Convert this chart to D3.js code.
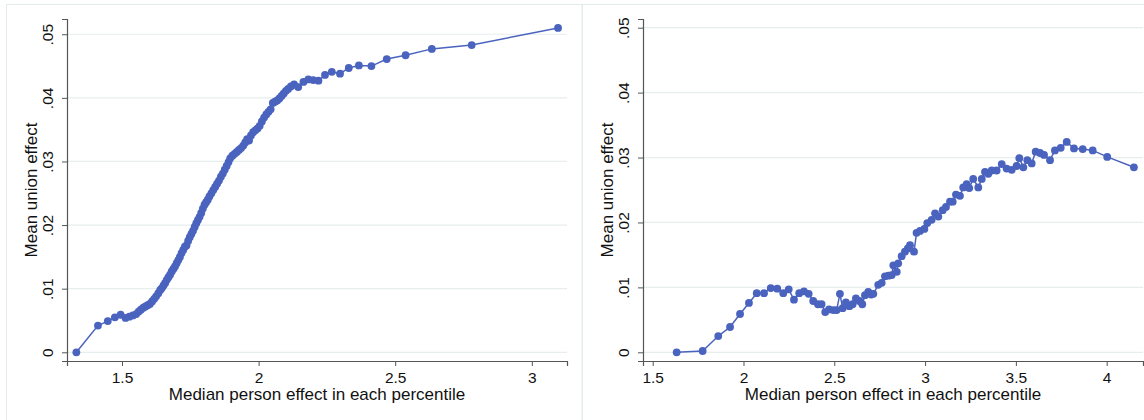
<!DOCTYPE html>
<html>
<head>
<meta charset="utf-8">
<script src="https://cdn.jsdelivr.net/npm/d3@7"></script>
<style>
html,body{margin:0;padding:0;background:#fff;}
svg{display:block;font-family:"Liberation Sans",Arial,sans-serif;}
</style>
</head>
<body>
<svg id="chart" width="1144" height="420"></svg>
<script>
// Left panel: median person effect (x) vs mean union effect (y)
const leftX = [1.333,1.412,1.448,1.474,1.495,1.513,1.527,1.540,1.552,1.561,1.569,1.578,1.586,1.594,1.602,1.610,1.618,1.625,1.633,1.640,1.646,1.652,1.658,1.664,1.670,1.676,1.682,1.688,1.694,1.700,1.706,1.712,1.718,1.724,1.730,1.736,1.742,1.748,1.754,1.760,1.766,1.772,1.778,1.784,1.790,1.796,1.802,1.808,1.814,1.820,1.827,1.834,1.841,1.848,1.855,1.862,1.869,1.876,1.883,1.890,1.896,1.904,1.912,1.920,1.928,1.936,1.944,1.951,1.958,1.965,1.972,1.980,1.988,1.996,2.004,2.012,2.020,2.028,2.036,2.044,2.052,2.060,2.068,2.076,2.084,2.092,2.100,2.108,2.118,2.130,2.145,2.164,2.182,2.200,2.219,2.243,2.268,2.298,2.330,2.367,2.413,2.469,2.538,2.634,2.780,3.096];
const leftY = [0.0000,0.0042,0.0049,0.0055,0.0059,0.0054,0.0056,0.0058,0.0060,0.0064,0.0067,0.0070,0.0072,0.0074,0.0076,0.0080,0.0084,0.0088,0.0093,0.0098,0.0101,0.0105,0.0109,0.0114,0.0118,0.0122,0.0127,0.0131,0.0135,0.0140,0.0145,0.0150,0.0156,0.0161,0.0166,0.0168,0.0175,0.0181,0.0186,0.0191,0.0197,0.0203,0.0208,0.0213,0.0219,0.0226,0.0232,0.0236,0.0240,0.0245,0.0250,0.0255,0.0260,0.0265,0.0270,0.0276,0.0281,0.0287,0.0293,0.0299,0.0305,0.0309,0.0312,0.0315,0.0318,0.0321,0.0325,0.0330,0.0335,0.0333,0.0341,0.0346,0.0349,0.0352,0.0356,0.0363,0.0369,0.0374,0.0378,0.0382,0.0392,0.0394,0.0396,0.0399,0.0403,0.0407,0.0411,0.0414,0.0418,0.0421,0.0417,0.0425,0.0429,0.0428,0.0427,0.0436,0.0441,0.0438,0.0447,0.0451,0.0450,0.0461,0.0467,0.0477,0.0483,0.0510];

// Right panel
const rightX = [1.632,1.775,1.861,1.926,1.981,2.030,2.073,2.113,2.150,2.186,2.219,2.249,2.278,2.307,2.333,2.359,2.384,2.410,2.430,2.450,2.471,2.495,2.513,2.531,2.546,2.564,2.583,2.601,2.619,2.638,2.654,2.669,2.687,2.703,2.715,2.742,2.761,2.779,2.798,2.816,2.825,2.844,2.852,2.871,2.889,2.905,2.917,2.939,2.953,2.972,2.996,3.012,3.036,3.055,3.073,3.097,3.115,3.137,3.152,3.170,3.192,3.210,3.229,3.243,3.265,3.293,3.312,3.330,3.348,3.367,3.394,3.422,3.449,3.477,3.504,3.519,3.541,3.563,3.587,3.609,3.633,3.655,3.688,3.715,3.747,3.780,3.820,3.868,3.923,4.003,4.150];
const rightY = [0.0000,0.0002,0.0025,0.0039,0.0059,0.0076,0.0091,0.0091,0.0099,0.0098,0.0091,0.0097,0.0081,0.0091,0.0094,0.0090,0.0079,0.0074,0.0074,0.0062,0.0066,0.0065,0.0065,0.0090,0.0068,0.0077,0.0071,0.0074,0.0083,0.0079,0.0074,0.0088,0.0093,0.0089,0.0090,0.0104,0.0107,0.0117,0.0118,0.0119,0.0134,0.0124,0.0137,0.0148,0.0155,0.0160,0.0165,0.0155,0.0184,0.0187,0.0190,0.0199,0.0204,0.0214,0.0209,0.0219,0.0224,0.0232,0.0232,0.0243,0.0241,0.0254,0.0259,0.0253,0.0267,0.0254,0.0267,0.0278,0.0275,0.0280,0.0280,0.0290,0.0283,0.0281,0.0287,0.0299,0.0285,0.0296,0.0291,0.0309,0.0307,0.0304,0.0296,0.0311,0.0315,0.0324,0.0314,0.0313,0.0311,0.0301,0.0285];

const yTicks = [0,0.01,0.02,0.03,0.04,0.05];
const yTickLabels = ["0",".01",".02",".03",".04",".05"];
const leftXTicks = [1.5,2,2.5,3];
const rightXTicks = [1.5,2,2.5,3,3.5,4];
const xTitle = "Median person effect in each percentile";
const yTitle = "Mean union effect";

const svg = d3.select("#chart");
const dotColor = "#4a63be";
const gridColor = "#e6eeee";
const frameColor = "#e3ecec";
const axisColor = "#555";

// outer frames
svg.append("rect").attr("x",6.5).attr("y",4.5).attr("width",575.5).attr("height",430)
  .attr("fill","none").attr("stroke",frameColor).attr("stroke-width",1);
svg.append("rect").attr("x",582.5).attr("y",4.5).attr("width",580).attr("height",430)
  .attr("fill","none").attr("stroke",frameColor).attr("stroke-width",1);

function panel(cfg){
  const x = d3.scaleLinear().domain(cfg.xDomain).range([cfg.x0, cfg.x1]);
  const y = d3.scaleLinear().domain(cfg.yDomain).range([cfg.yBottom, cfg.yTop]);
  const g = svg.append("g");

  // gridlines
  g.selectAll("line.grid").data(yTicks).join("line")
    .attr("x1",cfg.x0).attr("x2",cfg.x1)
    .attr("y1",d=>y(d)).attr("y2",d=>y(d))
    .attr("stroke",gridColor).attr("stroke-width",1.2);

  // y axis
  const yAxis = d3.axisLeft(y).tickValues(yTicks).tickFormat((d,i)=>yTickLabels[i]).tickSizeOuter(0).tickSize(5).tickPadding(3);
  const ya = g.append("g").attr("transform",`translate(${cfg.x0},0)`).call(yAxis);
  ya.select(".domain").attr("stroke",axisColor).attr("stroke-width",1.2);
  ya.selectAll(".tick line").attr("stroke",axisColor);
  ya.selectAll(".tick text")
    .attr("font-size",15.5).attr("fill","#111")
    .attr("font-family","'Liberation Sans',Arial,sans-serif")
    .attr("text-anchor","middle")
    .attr("x",null).attr("dy",null)
    .attr("transform","translate(-14,0) rotate(-90)");

  // x axis
  const xAxis = d3.axisBottom(x).tickValues(cfg.xTicks).tickFormat(d3.format("")).tickSizeOuter(0).tickSize(5).tickPadding(5);
  const xa = g.append("g").attr("transform",`translate(0,${cfg.yBottom})`).call(xAxis);
  xa.select(".domain").attr("stroke",axisColor).attr("stroke-width",1.2);
  xa.selectAll(".tick line").attr("stroke",axisColor);
  xa.selectAll(".tick text").attr("font-size",15.5).attr("fill","#111")
    .attr("font-family","'Liberation Sans',Arial,sans-serif")
    .attr("y",null).attr("dy",null).attr("transform","translate(0,22)");

  // titles
  g.append("text").attr("x",(cfg.x0+cfg.x1)/2).attr("y",400)
    .attr("text-anchor","middle").attr("font-size",17).attr("fill","#111").text(xTitle);
  g.append("text").attr("transform",`translate(${cfg.x0-30},${(cfg.yTop+cfg.yBottom)/2}) rotate(-90)`)
    .attr("text-anchor","middle").attr("font-size",17).attr("fill","#111").text(yTitle);

  const pts = cfg.xs.map((v,i)=>[v,cfg.ys[i]]);
  g.append("path").datum(pts)
    .attr("d",d3.line().x(d=>x(d[0])).y(d=>y(d[1])))
    .attr("fill","none").attr("stroke",dotColor).attr("stroke-width",1.5);
  g.selectAll("circle").data(pts).join("circle")
    .attr("cx",d=>x(d[0])).attr("cy",d=>y(d[1])).attr("r",3.9)
    .attr("fill",dotColor);
}

panel({x0:67,x1:567,yTop:19,yBottom:361,xDomain:[1.2987,3.1288],yDomain:[-0.00137,0.0524],xTicks:leftXTicks,xs:leftX,ys:leftY});
panel({x0:643,x1:1143,yTop:19,yBottom:361,xDomain:[1.4466,4.2000],yDomain:[-0.00134,0.05134],xTicks:rightXTicks,xs:rightX,ys:rightY});
</script>
</body>
</html>
